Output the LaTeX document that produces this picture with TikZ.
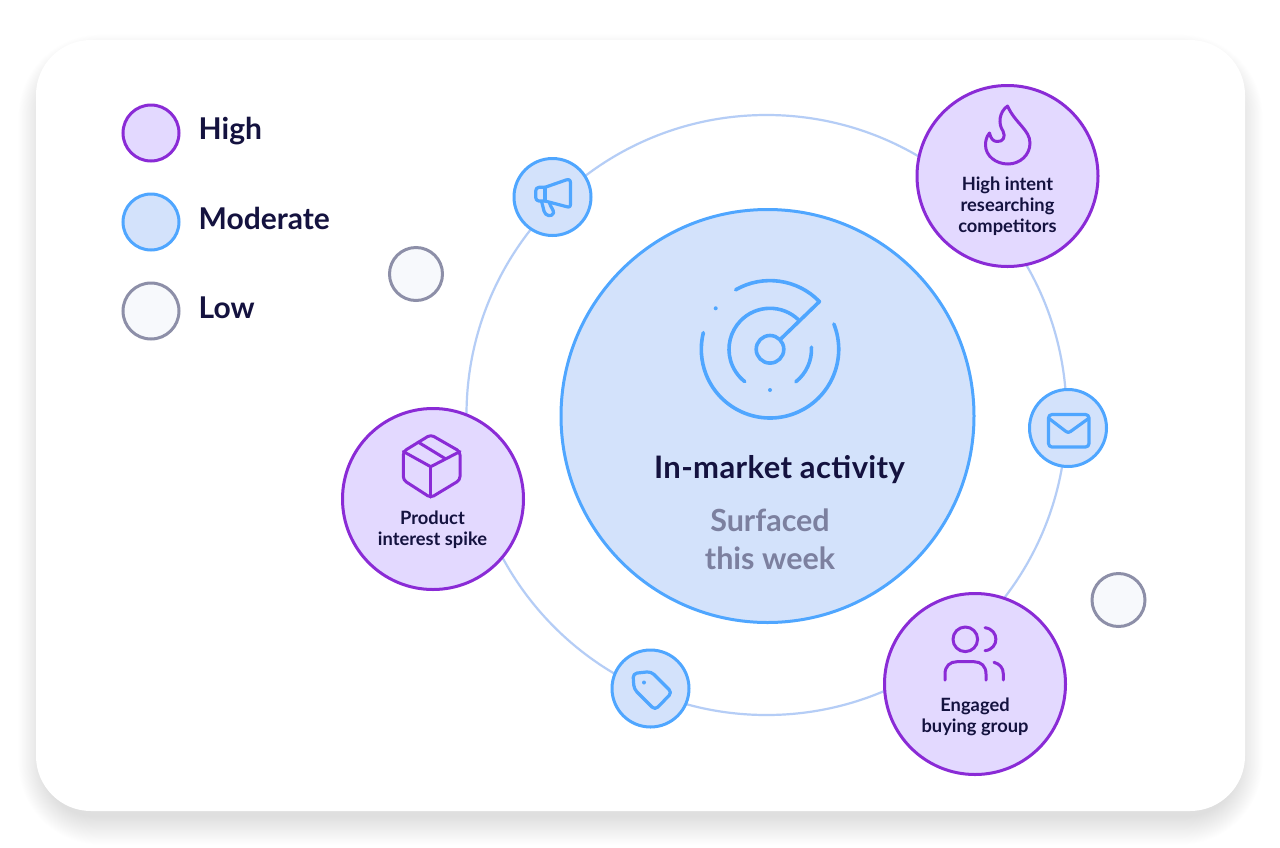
\documentclass[tikz,border=0pt]{standalone}
\usepackage{fontspec}
\setmainfont{Lato}
\definecolor{purp}{HTML}{8A2BD6}
\definecolor{purpfill}{HTML}{E3D9FF}
\definecolor{blu}{HTML}{4FA6FF}
\definecolor{blufill}{HTML}{D3E2FB}
\definecolor{ringc}{HTML}{B5CDF6}
\definecolor{lowc}{HTML}{8D8FA8}
\definecolor{lowfill}{HTML}{F7F9FC}
\definecolor{ink}{HTML}{14123F}
\definecolor{mute}{HTML}{7C809F}
\tikzset{
  x=1pt,y=-1pt,
  disc/.style={circle,inner sep=0pt,minimum size=#1},
  high/.style={disc=#1,draw=purp,fill=purpfill,line width=3pt},
  moder/.style={disc=#1,draw=blu,fill=blufill,line width=3pt},
  lowd/.style={disc=#1,draw=lowc,fill=lowfill,line width=3pt},
  legendtext/.style={anchor=west,text=ink,font=\fontsize{30}{32}\selectfont\bfseries,inner sep=0pt},
  nodetext/.style={align=center,text=ink,font=\fontsize{18.3}{21}\selectfont\bfseries,inner sep=0pt},
  picon/.style={draw=purp,line width=3pt,line cap=round,line join=round},
  bicon/.style={draw=blu,line width=3.2pt,line cap=round,line join=round}
}
\begin{document}
\begin{tikzpicture}
\useasboundingbox (0,0) rectangle (1280,847);
\fill[white] (0,0) rectangle (1280,847);
% soft shadow
\foreach \g in {1,...,32}{
  \fill[black,opacity=0.0036,rounded corners={50+\g}]
    (36+8-\g*0.8,40+20-\g*0.8) rectangle (1245-8+\g*0.8,811+5+\g*0.9);
}
\fill[white,rounded corners=55] (36,40) rectangle (1245,811);
% ring
\node[disc=600,draw=ringc,line width=2.2pt] (ring) at (766.5,415) {};
% centre
\node[moder=413] (main) at (767.5,416) {};
\node[anchor=center,text=ink,inner sep=0pt,font=\fontsize{31}{32}\selectfont\bfseries\addfontfeature{LetterSpace=1.2}] (maintitle) at (779.5,469.5) {In-market activity};
\node[align=center,text=mute,inner sep=0pt,font=\fontsize{30.5}{38.5}\selectfont\bfseries] (mainsub) at (770,539.5) {Surfaced\\this week};
% radar
\begin{scope}[line width=3.6pt,line cap=round,line join=round]
  \def\cx{770}\def\cy{349.3}
  \draw[blu] (\cx+68.7*cos 120,\cy-68.7*sin 120) arc[start angle=-120,end angle=-44,radius=68.7]
     -- (\cx+10.7,\cy-10.3);
  \draw[blu] (\cx+68.7*cos 21.6,\cy-68.7*sin 21.6) arc[start angle=-21.6,end angle=194,radius=68.7];
  \draw[blu] (\cx+41*cos 46,\cy-41*sin 46) arc[start angle=-46,end angle=-232,radius=41];
  \draw[blu] (\cx+41.5*cos 3,\cy-41.5*sin 3) arc[start angle=-3,end angle=51.5,radius=41.5];
  \draw[blu] (\cx,\cy) circle[radius=13.8];
\end{scope}
\fill[blu] (715.7,308.3) circle[radius=2];
\fill[blu] (770,390) circle[radius=2];
% moderate satellites
\node[moder=77] (mega) at (552.5,197) {};
\begin{scope}[shift={(500,150)}]
  \draw[bicon] (45,37.3) -- (66,30) .. controls (69,29) and (70.5,30) .. (70.5,33) -- (70.5,54) .. controls (70.5,57) and (69,57.5) .. (66,56.5) -- (45,51)
    -- (39,51) .. controls (37,51) and (35.7,49.5) .. (35.7,47.5) -- (35.7,41) .. controls (35.7,39) and (37,37.3) .. (39,37.3) -- cycle;
  \draw[bicon] (45,37.3) -- (45,51);
  \draw[bicon] (41.7,52) -- (44,61) .. controls (45,66) and (52,67.5) .. (53.5,63) .. controls (54,60) and (50.5,57) .. (49.5,53);
\end{scope}
\node[moder=77] (mail) at (1068,428) {};
\begin{scope}[shift={(1025,385)}]
  \draw[bicon,rounded corners=3.5] (23.5,29.5) rectangle (64,62);
  \draw[bicon] (24,33.5) -- (41,46.5) .. controls (42.5,47.7) and (44,47.7) .. (45.5,46.5) -- (63.5,33.5);
\end{scope}
\node[moder=77] (tag) at (650.5,688.5) {};
\begin{scope}[shift={(605,645)}]
  \draw[bicon,rounded corners=4] (28,28.5) -- (46,26.5) -- (67,47.5) -- (50,65) -- (29,44) -- cycle;
  \fill[blu] (39,37.5) circle[radius=2];
\end{scope}
% low
\node[lowd=53] (lowa) at (416,274) {};
\node[lowd=53] (lowb) at (1118.5,600) {};
% high nodes
\node[high=181] (intent) at (1007.5,176) {};
\begin{scope}[shift={(960,90)}]
  \draw[picon] (47.5,16) .. controls (39,22) and (38,34) .. (43,41)
    .. controls (46,47) and (43,52) .. (37,51.5) .. controls (33,51.5) and (30.5,48) .. (29.5,43)
    .. controls (26,47) and (25.5,52) .. (25.5,55) .. controls (25.5,66) and (36,74) .. (48,74)
    .. controls (60,74) and (70,65) .. (70,53) .. controls (70,40) and (55,33) .. (47.5,16) -- cycle;
\end{scope}
\node[nodetext] (intentlabel) at (1007.5,206) {High intent\\researching\\competitors};
\node[high=181] (product) at (433,499) {};
\begin{scope}[shift={(390,425)}]
  \draw[picon,rounded corners=3.5] (40.7,9.7) -- (70,26.5) -- (70,55) -- (40.7,72.7) -- (13.3,55) -- (13.3,26.5) -- cycle;
  \draw[picon] (13.3,26.5) -- (40.7,41.7) -- (70,26.5);
  \draw[picon] (40.7,41.7) -- (40.7,72);
  \draw[picon] (28,17) -- (55,33.5);
\end{scope}
\node[nodetext] (productlabel) at (432.5,530) {Product\\interest spike};
\node[high=181] (group) at (975,684) {};
\begin{scope}[shift={(925,615)}]
  \draw[picon] (40.3,24.3) circle[radius=12.3];
  \draw[picon] (60,12.7) .. controls (74.5,14.5) and (74.5,34) .. (60,35.7);
  \draw[picon] (20,65) -- (20,59) .. controls (20,51) and (25,46.7) .. (32,46.7) -- (49,46.7) .. controls (56,46.7) and (61,51) .. (61,59) -- (61,65);
  \draw[picon] (69,47.3) .. controls (75,49) and (78.3,53) .. (78.3,59) -- (78.3,65);
\end{scope}
\node[nodetext] (grouplabel) at (975,717) {Engaged\\buying group};
% legend
\node[legendtext] (lht) at (198.5,131) {High};
\node[high=56] (lh) at (151,133) {};
\node[moder=56] (lm) at (151,222) {};
\node[lowd=56] (ll) at (151,311) {};
\node[legendtext] (lmt) at (198.5,218.5) {Moderate};
\node[legendtext] (llt) at (198.5,307.5) {Low};
\end{tikzpicture}
\end{document}
